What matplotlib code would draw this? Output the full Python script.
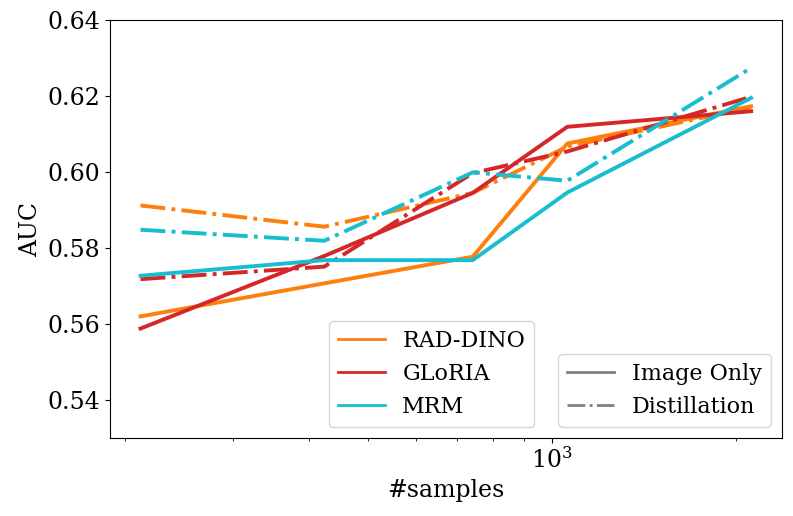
import matplotlib
matplotlib.use("Agg")
import matplotlib.pyplot as plt
from matplotlib.lines import Line2D

plt.rcParams['font.family'] = ['DejaVu Serif']

# данные
samples = [212, 424, 742, 1060, 2120]
models = ["RAD-DINO", "GLoRIA", "MRM"]
colors = {"RAD-DINO": "tab:orange", "GLoRIA": "tab:red", "MRM": "tab:cyan"}

image_only = {
    "RAD-DINO": [0.5620, 0.5707, 0.5777, 0.6075, 0.6173],
    "GLoRIA":   [0.5588, 0.5779, 0.5945, 0.6119, 0.6160],
    "MRM":      [0.5727, 0.5768, 0.5768, 0.5946, 0.6195],
}
distillation = {
    "RAD-DINO": [0.5912, 0.5856, 0.5945, 0.6067, 0.6170],
    "GLoRIA":   [0.5718, 0.5751, 0.5997, 0.6054, 0.6198],
    "MRM":      [0.5848, 0.5819, 0.5999, 0.5977, 0.6274],
}

fig = plt.figure(figsize=(7.93, 5.16), dpi=100)
ax = fig.add_axes([0.1387, 0.1512, 0.847, 0.81])

for m in models:
    ax.plot(samples, image_only[m], color=colors[m], linestyle='-', linewidth=2.8)
    ax.plot(samples, distillation[m], color=colors[m], linestyle='-.', linewidth=2.8)

ax.set_xscale('log')
ax.set_ylim(0.53, 0.64)
ax.set_yticks([0.54, 0.56, 0.58, 0.60, 0.62, 0.64])
ax.tick_params(labelsize=17)
ax.set_xlabel("#samples", fontsize=17)
ax.set_ylabel("AUC", fontsize=17)

# легенды
model_handles = [Line2D([0], [0], color=colors[m], lw=2) for m in models]
leg1 = ax.legend(model_handles, models, fontsize=16, loc='lower left',
                 bbox_to_anchor=(0.326, 0.026), borderaxespad=0, handlelength=2.1)
ax.add_artist(leg1)
style_handles = [Line2D([0], [0], color='gray', lw=2, linestyle='-'),
                 Line2D([0], [0], color='gray', lw=2, linestyle='-.')]
ax.legend(style_handles, ["Image Only", "Distillation"], fontsize=16,
          loc='lower right', borderaxespad=0.5, handlelength=2.1)

plt.savefig("out.png", dpi=100)
